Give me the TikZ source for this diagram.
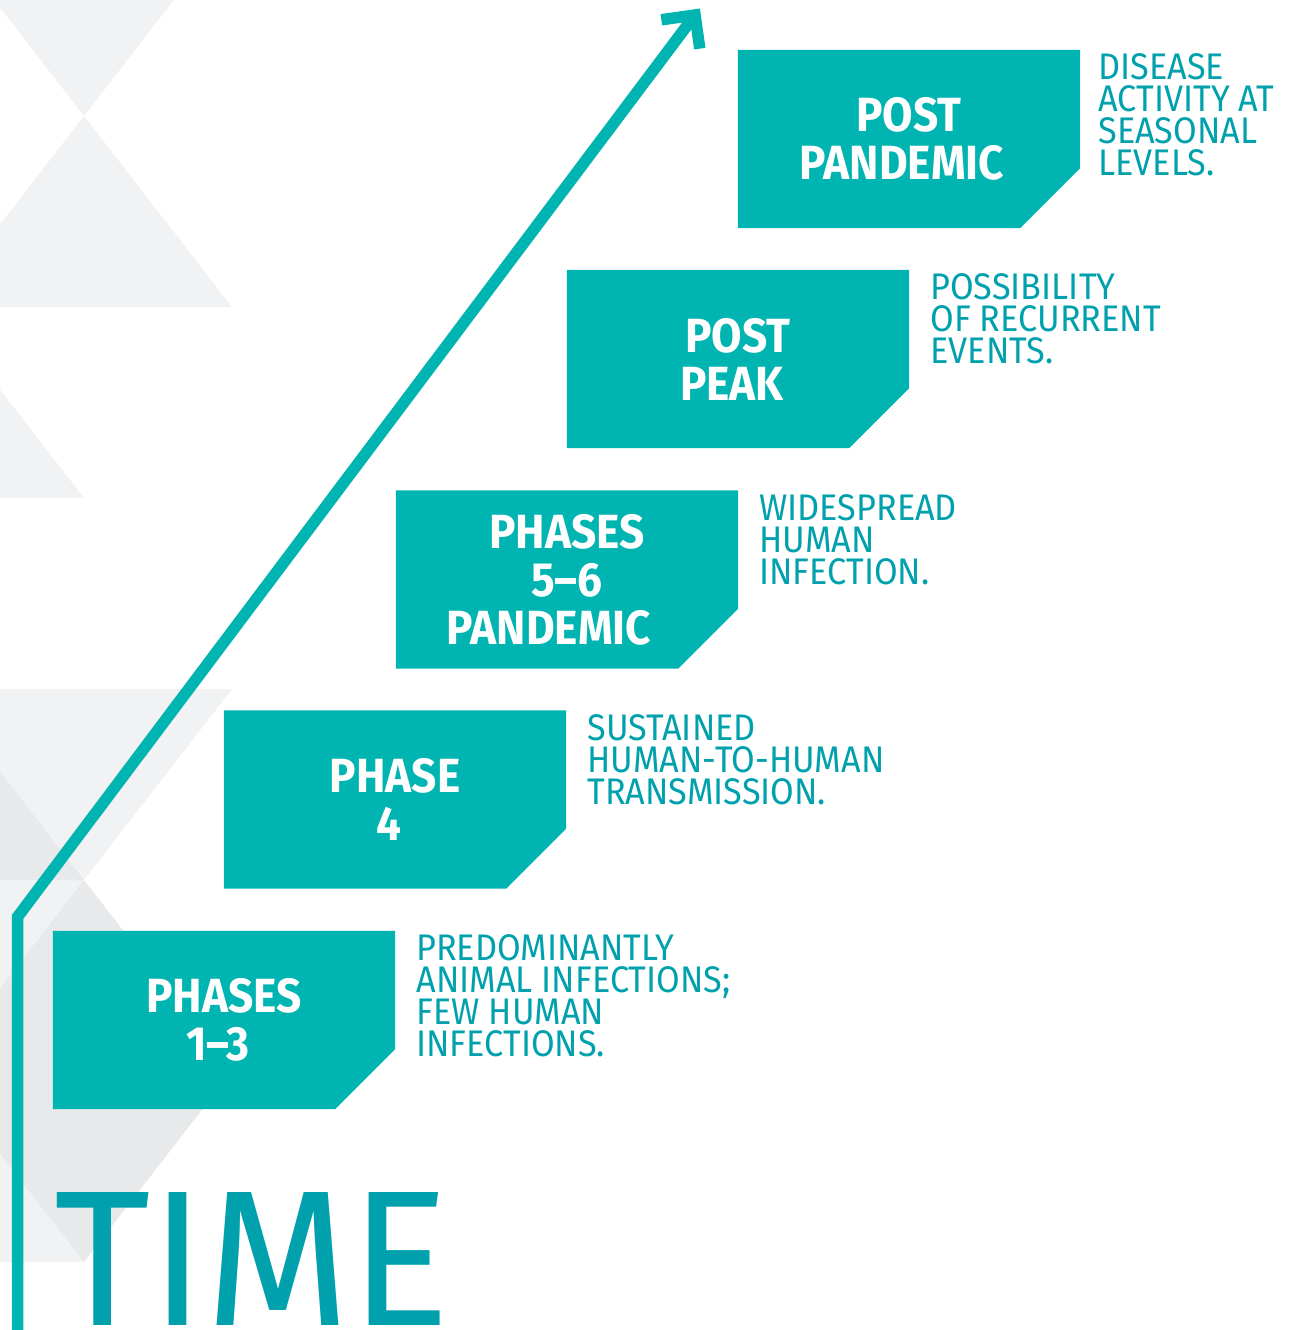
\documentclass[tikz,border=0pt]{standalone}
\usepackage{fontspec}
\setmainfont{Fira Sans}
\newfontfamily\boxfont{Fira Sans}[FakeStretch=0.92]
\newfontfamily\descfont{Fira Sans}[FakeStretch=0.925]
\newfontfamily\timefont{Fira Sans}[FakeStretch=0.965]
\usetikzlibrary{calc}
\definecolor{boxteal}{HTML}{00B5B1}
\definecolor{textteal}{HTML}{00A1AD}
\definecolor{bglight}{HTML}{F1F2F3}
\definecolor{bgdark}{HTML}{E8E9EA}
\pgfdeclarelayer{bg}
\pgfsetlayers{bg,main}
\tikzset{
  phasebox/.style={minimum width=342pt, minimum height=178pt, inner sep=0pt,
    align=center, text=white, font=\boxfont\bfseries\fontsize{48}{48}\selectfont},
  desc/.style={anchor=north west, inner sep=0pt, align=left, text=textteal,
    font=\descfont\fontsize{37}{32}\selectfont},
  timeline/.style={draw=boxteal, line width=11.5pt, line join=miter},
  lighttri/.style={fill=bglight},
  darktri/.style={fill=bgdark},
}
\newcommand\chamfill[1]{\fill[boxteal] (#1.north west) -- (#1.north east)
  -- ([yshift=60pt]#1.south east) -- ([xshift=-60pt]#1.south east)
  -- (#1.south west) -- cycle;}
\begin{document}
\begin{tikzpicture}[x=1pt,y=-1pt]
\useasboundingbox (0,0) rectangle (1289,1330);
\begin{pgfonlayer}{bg}
\begin{scope}
\clip (0,0) rectangle (1289,1330);
\fill[lighttri] (-64,-75) -- (232,-75) -- (84,116) -- cycle;
\fill[lighttri] (84,116) -- (-64,307) -- (232,307) -- cycle;
\fill[lighttri] (-64,307) -- (-212,498) -- (84,498) -- cycle;
\fill[lighttri] (-64,689) -- (232,689) -- (84,880) -- cycle;
\fill[lighttri] (-212,880) -- (84,880) -- (-64,1071) -- cycle;
\fill[lighttri] (-64,1071) -- (-212,1262) -- (84,1262) -- cycle;
\fill[darktri] (-64,689) -- (-212,880) -- (84,880) -- cycle;
\fill[darktri] (84,880) -- (-64,1071) -- (232,1071) -- cycle;
\fill[darktri] (-64,1071) -- (232,1071) -- (84,1262) -- cycle;
\end{scope}
\end{pgfonlayer}

% phase boxes
\node[phasebox] (p1) at (224,1020) {PHASES\\1–3\kern12pt};
\node[phasebox] (p2) at (395,799.5) {PHASE\\4\kern12pt};
\node[phasebox] (p3) at (567,579.5) {PHASES\\5–6\\PANDEMIC\kern36pt};
\node[phasebox] (p4) at (738,359) {POST\\PEAK\kern12pt};
\node[phasebox] (p5) at (909,139) {POST\\PANDEMIC\kern14pt};

\begin{pgfonlayer}{bg}
\chamfill{p1}
\chamfill{p2}
\chamfill{p3}
\chamfill{p4}
\chamfill{p5}
\end{pgfonlayer}

% descriptions
\node[desc] (d1) at ([xshift=21pt,yshift=-4pt]p1.north east) {PREDOMINANTLY\\ANIMAL INFECTIONS;\\FEW HUMAN\\INFECTIONS.};
\node[desc] (d2) at ([xshift=21pt,yshift=-4pt]p2.north east) {SUSTAINED\\HUMAN-TO-HUMAN\\TRANSMISSION.};
\node[desc] (d3) at ([xshift=21pt,yshift=-4pt]p3.north east) {WIDESPREAD\\HUMAN\\INFECTION.};
\node[desc] (d4) at ([xshift=21pt,yshift=-4pt]p4.north east) {POSSIBILITY\\OF RECURRENT\\EVENTS.};
\node[desc] (d5) at ([xshift=18pt,yshift=-4pt]p5.north east) {DISEASE\\ACTIVITY AT\\SEASONAL\\LEVELS.};

% time arrow
\coordinate (t0) at (17.5,1330);
\coordinate (t1) at (17.5,917);
\coordinate (t2) at (695,15);
\draw[timeline] (t0) -- (t1) -- (t2);
\draw[timeline] ($(t2)!34pt!45:(t1)$) -- (t2) -- ($(t2)!34pt!-45:(t1)$);

\node[anchor=base west, inner sep=0pt, text=textteal,
  font=\timefont\fontsize{193}{193}\selectfont] (time) at (54,1325) {TIME};
\end{tikzpicture}
\end{document}
